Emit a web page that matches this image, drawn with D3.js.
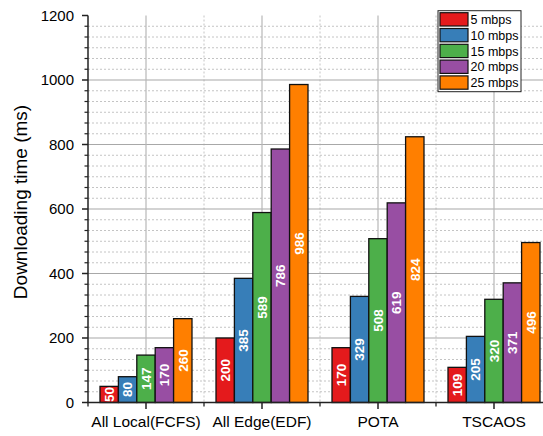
<!DOCTYPE html>
<html>
<head>
<meta charset="utf-8">
<script src="https://cdn.jsdelivr.net/npm/d3@7"></script>
<style>
  html, body { margin: 0; padding: 0; background: #fff; }
  svg { display: block; font-family: "Liberation Sans", Arial, sans-serif; }
</style>
</head>
<body>
<svg id="chart" width="543" height="436"></svg>
<script>
// Downloading time per scheduling scheme and bandwidth
const categories = ["All Local(FCFS)", "All Edge(EDF)", "POTA", "TSCAOS"];
const seriesNames = ["5 mbps", "10 mbps", "15 mbps", "20 mbps", "25 mbps"];
const seriesColors = ["#e41a1c", "#377eb8", "#4daf4a", "#984ea3", "#ff7f00"];
const mbps5  = [50, 200, 170, 109];
const mbps10 = [80, 385, 329, 205];
const mbps15 = [147, 589, 508, 320];
const mbps20 = [170, 786, 619, 371];
const mbps25 = [260, 986, 824, 496];
const yTicks = [0, 200, 400, 600, 800, 1000, 1200];
const yTitle = "Downloading time (ms)";

const seriesValues = [mbps5, mbps10, mbps15, mbps20, mbps25];

const svg = d3.select("#chart");
const plotLeft = 88, plotRight = 552, plotTop = 15.5, plotBottom = 402.5;

const x = d3.scaleBand().domain(categories).range([plotLeft, plotRight]).padding(0);
const xInner = d3.scaleBand().domain(seriesNames)
  .range([x.bandwidth() * 0.1035, x.bandwidth() * 0.8965]).padding(0);
const y = d3.scaleLinear().domain([0, 1200]).range([plotBottom, plotTop]);

// minor horizontal grid (dotted), 6 subdivisions per major step
const minorY = d3.range(0, 1200 + 1e-6, 200 / 6).filter(v => Math.abs(v / 200 - Math.round(v / 200)) > 1e-6);
const grid = svg.append("g");
grid.selectAll("line.hminor").data(minorY).join("line")
  .attr("x1", plotLeft).attr("x2", 543)
  .attr("y1", d => y(d)).attr("y2", d => y(d))
  .attr("stroke", "#c4c4c4").attr("stroke-width", 1).attr("stroke-dasharray", "2,2");

// minor vertical grid at category boundaries (dotted)
const bounds = categories.slice(1).map(c => x(c));
grid.selectAll("line.vminor").data(bounds).join("line")
  .attr("x1", d => d).attr("x2", d => d)
  .attr("y1", plotTop).attr("y2", plotBottom)
  .attr("stroke", "#c4c4c4").attr("stroke-width", 1).attr("stroke-dasharray", "2,2");

// major grid lines (solid)
grid.selectAll("line.hmajor").data(yTicks.filter(v => v > 0 && v < 1200)).join("line")
  .attr("x1", plotLeft).attr("x2", 543)
  .attr("y1", d => y(d)).attr("y2", d => y(d))
  .attr("stroke", "#a8a8a8").attr("stroke-width", 1.2);
grid.selectAll("line.vmajor").data(categories).join("line")
  .attr("x1", d => x(d) + x.bandwidth() / 2).attr("x2", d => x(d) + x.bandwidth() / 2)
  .attr("y1", plotTop).attr("y2", plotBottom)
  .attr("stroke", "#b8b8b8").attr("stroke-width", 1.2);

// bars
const groups = svg.append("g").selectAll("g").data(categories).join("g")
  .attr("transform", d => `translate(${x(d)},0)`);

groups.each(function (cat, ci) {
  const g = d3.select(this);
  const rows = seriesNames.map((s, si) => ({ s, si, v: seriesValues[si][ci] }));
  g.selectAll("rect").data(rows).join("rect")
    .attr("x", d => xInner(d.s))
    .attr("width", xInner.bandwidth())
    .attr("y", d => y(d.v))
    .attr("height", d => y(0) - y(d.v))
    .attr("fill", d => seriesColors[d.si])
    .attr("stroke", "#111").attr("stroke-width", 1.3);
  g.selectAll("text").data(rows).join("text")
    .attr("transform", d => `translate(${xInner(d.s) + xInner.bandwidth() / 2},${(y(d.v) + y(0)) / 2}) rotate(-90)`)
    .attr("text-anchor", "middle")
    .attr("dy", "0.36em")
    .attr("fill", "#fff")
    .attr("font-weight", "bold")
    .attr("font-size", "13.5px")
    .text(d => d.v);
});

// y axis
const yAxis = svg.append("g");
yAxis.append("line").attr("x1", plotLeft).attr("x2", plotLeft).attr("y1", plotTop).attr("y2", plotBottom)
  .attr("stroke", "#222").attr("stroke-width", 1.5);
yAxis.selectAll("line.minor").data(minorY).join("line")
  .attr("x1", plotLeft - 3.5).attr("x2", plotLeft)
  .attr("y1", d => y(d)).attr("y2", d => y(d))
  .attr("stroke", "#222").attr("stroke-width", 1.2);
yAxis.selectAll("line.major").data(yTicks).join("line")
  .attr("x1", plotLeft - 6).attr("x2", plotLeft)
  .attr("y1", d => y(d)).attr("y2", d => y(d))
  .attr("stroke", "#222").attr("stroke-width", 1.5);
yAxis.selectAll("text").data(yTicks).join("text")
  .attr("x", plotLeft - 14).attr("y", d => y(d)).attr("dy", "0.36em")
  .attr("text-anchor", "end").attr("font-size", "15px").attr("fill", "#000")
  .text(d => d);

svg.append("text")
  .attr("transform", "translate(27,202) rotate(-90)")
  .attr("text-anchor", "middle").attr("font-size", "19px").attr("fill", "#000")
  .text(yTitle);

// x axis
const xAxis = svg.append("g");
xAxis.append("line").attr("x1", plotLeft - 1).attr("x2", 543).attr("y1", plotBottom).attr("y2", plotBottom)
  .attr("stroke", "#222").attr("stroke-width", 1.5);
xAxis.selectAll("line.minor").data([plotLeft].concat(bounds)).join("line")
  .attr("x1", d => d).attr("x2", d => d)
  .attr("y1", plotBottom).attr("y2", plotBottom + 4)
  .attr("stroke", "#222").attr("stroke-width", 1.3);
xAxis.selectAll("line.major").data(categories).join("line")
  .attr("x1", d => x(d) + x.bandwidth() / 2).attr("x2", d => x(d) + x.bandwidth() / 2)
  .attr("y1", plotBottom).attr("y2", plotBottom + 6.5)
  .attr("stroke", "#222").attr("stroke-width", 1.5);
xAxis.selectAll("text").data(categories).join("text")
  .attr("x", d => x(d) + x.bandwidth() / 2).attr("y", 426.5)
  .attr("text-anchor", "middle").attr("font-size", "15.5px").attr("fill", "#000")
  .text(d => d);

// legend
const legend = svg.append("g").attr("transform", "translate(438,10.7)");
legend.append("rect").attr("width", 83).attr("height", 81)
  .attr("fill", "#fff").attr("stroke", "#222").attr("stroke-width", 1);
const items = legend.selectAll("g").data(seriesNames).join("g")
  .attr("transform", (d, i) => `translate(2,${2 + i * 15.8})`);
items.append("rect").attr("width", 28).attr("height", 13.3)
  .attr("fill", (d, i) => seriesColors[i]).attr("stroke", "#111").attr("stroke-width", 1.2);
items.append("text").attr("x", 30.5).attr("y", 6.8).attr("dy", "0.36em")
  .attr("font-size", "12.5px").attr("fill", "#000").text(d => d);
</script>
</body>
</html>
